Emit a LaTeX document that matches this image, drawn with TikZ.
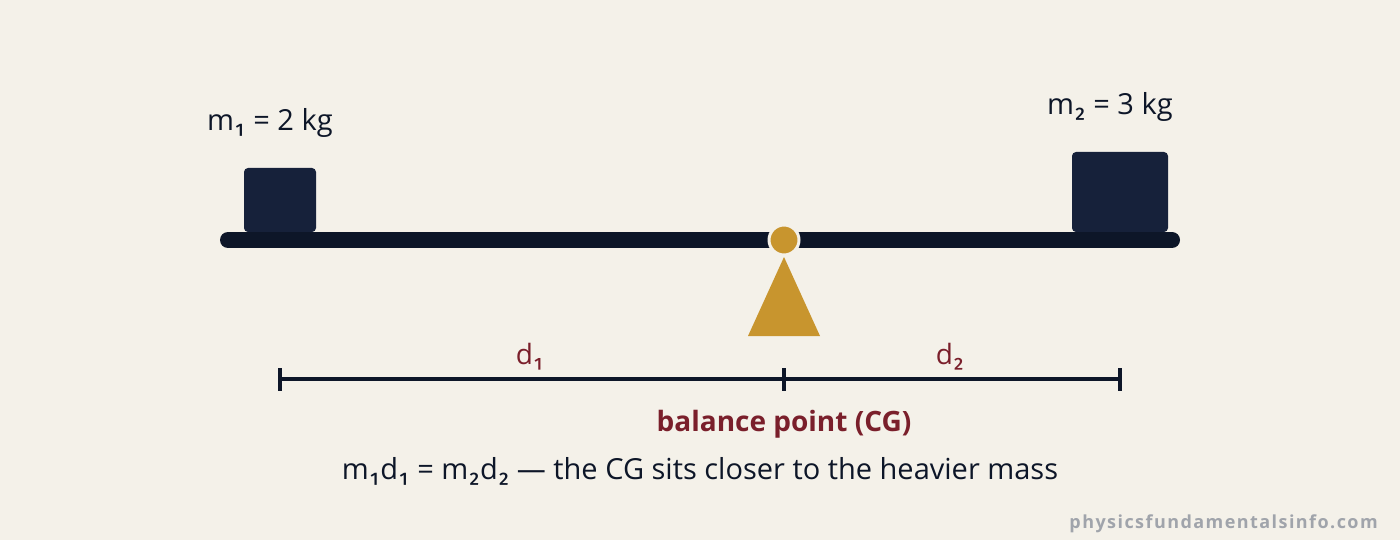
\documentclass[tikz,border=0pt]{standalone}
\usepackage{fontspec}
\setmainfont{Open Sans}
\newfontfamily\subfont{Fira Sans}
\newcommand{\sone}{{\subfont ₁}}
\newcommand{\stwo}{{\subfont ₂}}
\usetikzlibrary{calc}
\definecolor{bg}{HTML}{F4F1E9}
\definecolor{navy}{HTML}{0D1628}
\definecolor{boxc}{HTML}{16213A}
\definecolor{gold}{HTML}{C8952E}
\definecolor{maroon}{HTML}{7A1F2B}
\definecolor{wm}{HTML}{A0A4AB}
\begin{document}
\begin{tikzpicture}[x=1pt,y=-1pt,
  mass/.style={fill=boxc,rounded corners=4pt},
  lbl/.style={inner sep=0pt,text=navy,font=\fontsize{29}{32}\selectfont},
  dlbl/.style={inner sep=0pt,text=maroon,font=\fontsize{28}{30}\selectfont},
  dimline/.style={draw=navy,line width=3.5pt}]
\fill[bg] (0,0) rectangle (1400,540);
\useasboundingbox (0,0) rectangle (1400,540);
% beam
\draw[navy,line width=16pt,line cap=round] (228,240) -- (1172,240);
% masses
\fill[mass] (244,168) rectangle (316,232);
\fill[mass] (1072,152) rectangle (1168,232);
% fulcrum
\fill[gold] (784,257) -- (820,336) -- (748,336) -- cycle;
\node[circle,fill=gold,draw=bg,line width=3pt,minimum size=30pt,inner sep=0pt] (piv) at (784,240) {};
% labels
\node[lbl,anchor=base west] (m1) at (207,131) {m\sone{} = 2 kg};
\node[lbl,anchor=base west] (m2) at (1047,115) {m\stwo{} = 3 kg};
% dimension line
\coordinate (dL) at (280,379);
\coordinate (dM) at (784,379);
\coordinate (dR) at (1120,379);
\draw[dimline] (dL) -- (dR);
\draw[dimline] ($(dL)+(0,-11)$) -- ($(dL)+(0,12)$);
\draw[dimline] ($(dM)+(0,-11)$) -- ($(dM)+(0,12)$);
\draw[dimline] ($(dR)+(0,-11)$) -- ($(dR)+(0,12)$);
\node[dlbl,anchor=base] (d1) at (530,364) {d\sone};
\node[dlbl,anchor=base] (d2) at (950,364) {d\stwo};
\node[inner sep=0pt,anchor=base,text=maroon,font=\fontsize{28}{30}\selectfont\bfseries] (bp) at (784,431) {balance point (CG)};
\node[lbl,anchor=base] (eq) at (700,479) {m\sone d\sone{} = m\stwo d\stwo{} — the CG sits closer to the heavier mass};
\node[inner sep=0pt,anchor=base east,text=wm,font=\fontsize{18}{22}\selectfont\bfseries\addfontfeature{LetterSpace=8}] (wmk) at (1378,528) {physicsfundamentalsinfo.com};
\end{tikzpicture}
\end{document}
